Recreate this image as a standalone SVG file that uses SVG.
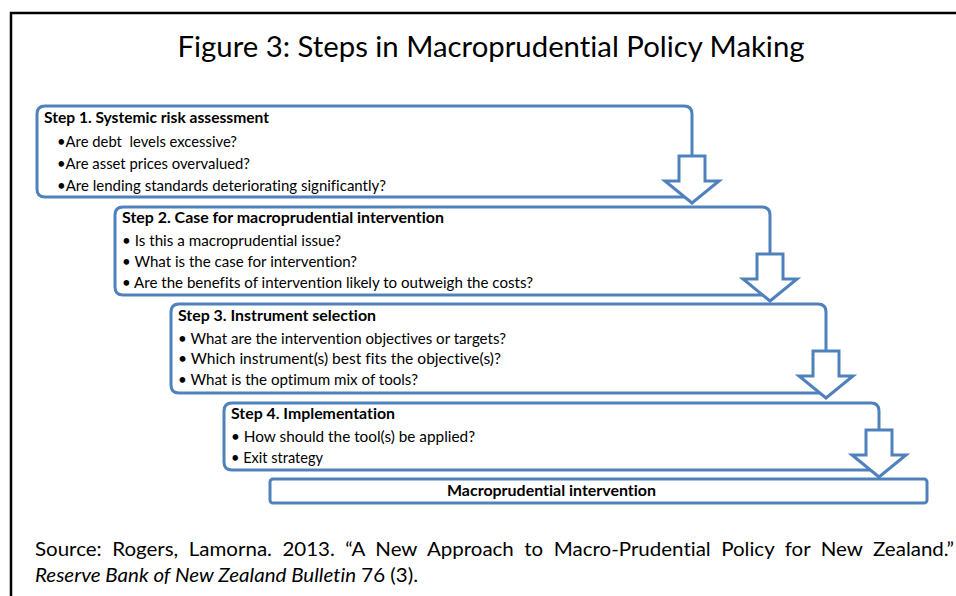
<svg xmlns="http://www.w3.org/2000/svg" width="956" height="596" viewBox="0 0 956 596">
<style>
.box{fill:none;stroke:#4F81BD;stroke-width:3;stroke-linejoin:round}
.fbox{fill:#fff;stroke:#4F81BD;stroke-width:3}
.arr{fill:#fff;stroke:#4F81BD;stroke-width:3;stroke-linejoin:miter}
text{font-family:Lato,"Open Sans","Liberation Sans",sans-serif;fill:#000;font-variant-ligatures:none}
.h{font-size:15.5px;font-weight:bold}
.b{font-size:15px}
.t{font-size:29px}
.s{font-size:19.5px}
</style>
<rect width="956" height="596" fill="#fff"/>
<path d="M11,596 V13 H956" fill="none" stroke="#000" stroke-width="2.5"/>
<text class="t" x="491" y="57" text-anchor="middle" textLength="627" lengthAdjust="spacingAndGlyphs">Figure 3: Steps in Macroprudential Policy Making</text>

<g id="step1">
<path class="box" d="M692,197 H45 Q37,197 37,189 V114 Q37,106 45,106 H684 Q692,106 692,114 V156"/>
<text class="h" x="44" y="123" textLength="225" lengthAdjust="spacingAndGlyphs">Step 1. Systemic risk assessment</text>
<text class="b" x="57" y="147" textLength="180" lengthAdjust="spacingAndGlyphs" xml:space="preserve">•Are debt  levels excessive?</text>
<text class="b" x="57" y="169" textLength="193" lengthAdjust="spacingAndGlyphs">•Are asset prices overvalued?</text>
<text class="b" x="57" y="191" textLength="329" lengthAdjust="spacingAndGlyphs">•Are lending standards deteriorating significantly?</text>
</g>

<g id="step2">
<path class="box" d="M770,295 H123 Q115,295 115,287 V215 Q115,207 123,207 H762 Q770,207 770,215 V254"/>
<text class="h" x="122" y="223" textLength="322" lengthAdjust="spacingAndGlyphs">Step 2. Case for macroprudential intervention</text>
<text class="b" x="122" y="246" textLength="219" lengthAdjust="spacingAndGlyphs">• Is this a macroprudential issue?</text>
<text class="b" x="122" y="267" textLength="235" lengthAdjust="spacingAndGlyphs">• What is the case for intervention?</text>
<text class="b" x="122" y="288" textLength="411" lengthAdjust="spacingAndGlyphs">• Are the benefits of intervention likely to outweigh the costs?</text>
</g>

<g id="step3">
<path class="box" d="M826,393 H179 Q171,393 171,385 V312 Q171,304 179,304 H818 Q826,304 826,312 V351"/>
<text class="h" x="178" y="321" textLength="198" lengthAdjust="spacingAndGlyphs">Step 3. Instrument selection</text>
<text class="b" x="178" y="344" textLength="328" lengthAdjust="spacingAndGlyphs">• What are the intervention objectives or targets?</text>
<text class="b" x="178" y="364" textLength="323" lengthAdjust="spacingAndGlyphs">• Which instrument(s) best fits the objective(s)?</text>
<text class="b" x="178" y="385" textLength="240" lengthAdjust="spacingAndGlyphs">• What is the optimum mix of tools?</text>
</g>

<g id="step4">
<path class="box" d="M879,470 H232 Q224,470 224,462 V411 Q224,403 232,403 H871 Q879,403 879,411 V430"/>
<text class="h" x="231" y="419" textLength="164" lengthAdjust="spacingAndGlyphs">Step 4. Implementation</text>
<text class="b" x="231" y="442" textLength="244" lengthAdjust="spacingAndGlyphs">• How should the tool(s) be applied?</text>
<text class="b" x="231" y="463" textLength="92" lengthAdjust="spacingAndGlyphs">• Exit strategy</text>
</g>

<g id="final">
<rect class="fbox" x="270" y="479" width="657" height="24" rx="3"/>
<text class="h" x="551.5" y="496" text-anchor="middle" textLength="209" lengthAdjust="spacingAndGlyphs">Macroprudential intervention</text>
</g>

<g id="connectors">
<polygon class="arr" points="679,156 705,156 705,181 719,181 692,203 665,181 679,181"/>
<polygon class="arr" points="757,254 783,254 783,279 797,279 770,301 743,279 757,279"/>
<polygon class="arr" points="813,351 839,351 839,376 853,376 826,398 799,376 813,376"/>
<polygon class="arr" points="866,430 892,430 892,455 906,455 879,477 852,455 866,455"/>
</g>

<g id="source">
<text class="s" x="35" y="556" word-spacing="5" textLength="919" lengthAdjust="spacingAndGlyphs">Source: Rogers, Lamorna. 2013. “A New Approach to Macro-Prudential Policy for New Zealand.”</text>
<text class="s" x="35" y="582" textLength="383" lengthAdjust="spacingAndGlyphs"><tspan font-style="italic">Reserve Bank of New Zealand Bulletin</tspan> 76 (3).</text>
</g>
</svg>
